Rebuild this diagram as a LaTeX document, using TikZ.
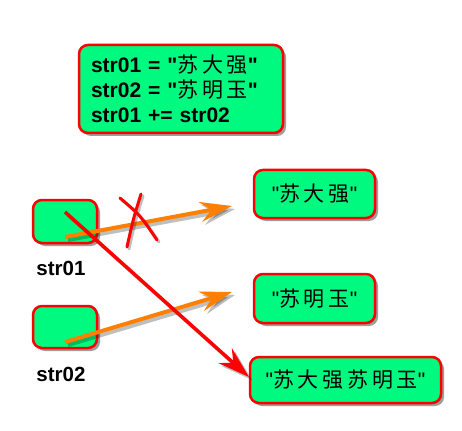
\documentclass[tikz,border=0pt]{standalone}
\usepackage{fontspec}
\setmainfont[Ligatures=TeXOff]{Liberation Sans}
\newfontfamily\cjk[LetterSpace=18]{Noto Sans CJK SC}
\usetikzlibrary{arrows.meta,shadows}
\definecolor{boxgreen}{RGB}{0,250,128}
\definecolor{ptrorange}{RGB}{255,128,0}
\begin{document}
\begin{tikzpicture}[x=1pt,y=-1pt,
box/.style={draw=red,line width=2.5pt,fill=boxgreen,rounded corners=9pt,
  drop shadow={shadow xshift=3pt,shadow yshift=-3pt,opacity=0.55,fill=black!70}},
varlabel/.style={font=\fontsize{20.5}{24}\selectfont\bfseries},
strtext/.style={font=\fontsize{21}{24}\selectfont},
ptr/.style={line width=4pt,-{Stealth[length=32pt,width=20pt,inset=11pt]}},
ptrshadow/.style={ptr,draw=black,opacity=0.25,transform canvas={shift={(3pt,-3pt)}}}]
\useasboundingbox (0,0) rectangle (462,430);
\node[box,minimum width=204pt,minimum height=88pt,text width=180pt,inner xsep=12pt,align=left,
  font=\fontsize{21}{25}\selectfont\bfseries] (code) at (181,89)
  {str01 = "{\cjk\mdseries 苏大强}"\\str02 = "{\cjk\mdseries 苏明玉}"\\str01 += str02};
\node[box,minimum width=64pt,minimum height=43pt] (s1) at (65,221.5) {};
\node[box,minimum width=64pt,minimum height=42pt] (s2) at (65,327) {};
\node[varlabel] (l1) at (61,268) {str01};
\node[varlabel] (l2) at (61,374) {str02};
\node[box,strtext,minimum width=121pt,minimum height=48pt] (a) at (314.5,194) {"{\cjk 苏大强}"};
\node[box,strtext,minimum width=121pt,minimum height=49pt] (b) at (314.5,298.5) {"{\cjk 苏明玉}"};
\node[box,strtext,minimum width=191pt,minimum height=46pt] (c) at (345.5,380) {"{\cjk 苏大强苏明玉}"};
\coordinate (p1) at (65,237);
\coordinate (p2) at (65,342);
\coordinate (p3) at (65,212);
\coordinate (e1) at (232,206);
\coordinate (e2) at (232,292);
\coordinate (e3) at (249,377);
\foreach \from/\to in {p1/e1,p2/e2} {
\draw[ptrshadow] (\from) -- (\to);
\draw[ptr,draw=ptrorange,fill=ptrorange] (\from) -- (\to);
}
\draw[ptrshadow,line width=3.5pt] (p3) -- (e3);
\draw[ptr,line width=3.5pt,draw=red,fill=red] (p3) -- (e3);
\foreach \sh/\col/\op in {2/black/0.25,0/red/1} {
\begin{scope}[transform canvas={shift={(\sh pt,-\sh pt)}},opacity=\op]
\draw[line width=3pt,draw=\col,line cap=round] (120,198) .. controls (140,215) .. (157,240);
\draw[line width=3pt,draw=\col,line cap=round] (141,194) .. controls (133,220) .. (127,247);
\end{scope}
}
\end{tikzpicture}
\end{document}
